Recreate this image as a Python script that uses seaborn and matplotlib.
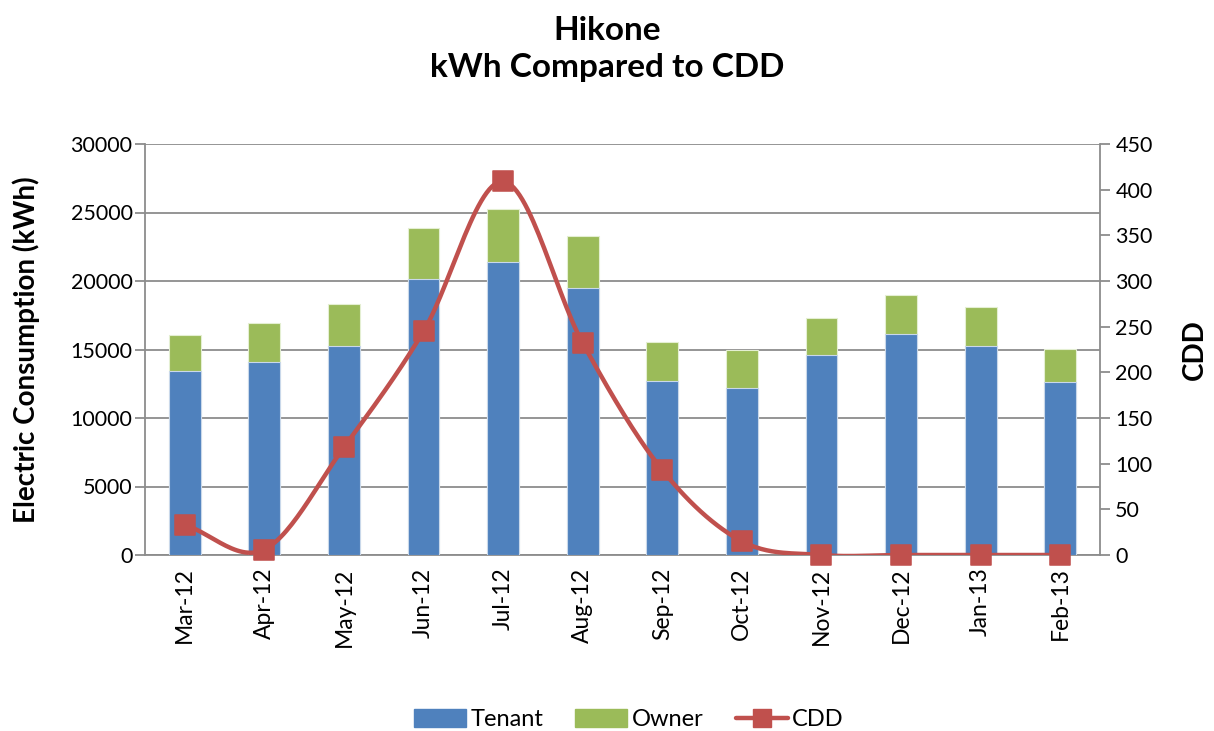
import numpy as np
import pandas as pd
import matplotlib
matplotlib.use("Agg")
import matplotlib.pyplot as plt
import seaborn as sns
from matplotlib.patches import Patch
from matplotlib.lines import Line2D

months = ["Mar-12", "Apr-12", "May-12", "Jun-12", "Jul-12", "Aug-12",
          "Sep-12", "Oct-12", "Nov-12", "Dec-12", "Jan-13", "Feb-13"]
tenant = [13430, 14070, 15280, 20120, 21410, 19510,
          12700, 12190, 14600, 16150, 15280, 12630]
owner = [2620, 2840, 3060, 3770, 3850, 3780,
         2870, 2770, 2720, 2800, 2800, 2380]
cdd = [33, 6, 118, 245, 409, 232, 93, 15, 0, 0, 0, 0]

BLUE = "#4F81BD"
GREEN = "#9BBB59"
RED = "#C0504D"
GRID = "#8c8c8c"


def smooth_path(x, y, n=30):
    # catmull-rom curve through the points, like Excel's smoothed line
    x = np.asarray(x, float)
    y = np.asarray(y, float)
    px = np.concatenate([[2 * x[0] - x[1]], x, [2 * x[-1] - x[-2]]])
    py = np.concatenate([[2 * y[0] - y[1]], y, [2 * y[-1] - y[-2]]])
    xs, ys = [], []
    t = np.linspace(0, 1, n)
    for i in range(1, len(px) - 2):
        for p, out in ((px, xs), (py, ys)):
            p0, p1, p2, p3 = p[i - 1], p[i], p[i + 1], p[i + 2]
            out.append(0.5 * (2 * p1 + (-p0 + p2) * t
                              + (2 * p0 - 5 * p1 + 4 * p2 - p3) * t ** 2
                              + (-p0 + 3 * p1 - 3 * p2 + p3) * t ** 3))
    return np.concatenate(xs), np.concatenate(ys)


def main():
    df = pd.DataFrame({"month": months, "Tenant": tenant, "Owner": owner, "CDD": cdd})
    df["Total"] = df["Tenant"] + df["Owner"]

    sns.set_style("white")
    plt.rcParams["font.family"] = ["Lato", "DejaVu Sans"]
    plt.rcParams["text.color"] = "black"
    plt.rcParams["xtick.color"] = "black"
    plt.rcParams["ytick.color"] = "black"
    plt.rcParams["axes.labelcolor"] = "black"

    fig = plt.figure(figsize=(12.14, 7.31), dpi=100)
    ax = fig.add_axes([145 / 1214, 1 - 555 / 731, 955 / 1214, 411 / 731])

    sns.barplot(data=df, x="month", y="Total", color=GREEN, width=0.4,
                edgecolor="#e4efd2", linewidth=0.8, saturation=1, ax=ax, zorder=2)
    sns.barplot(data=df, x="month", y="Tenant", color=BLUE, width=0.4,
                edgecolor="#c9d8ea", linewidth=0.8, saturation=1, ax=ax, zorder=3)

    ax.set_xlim(-0.5, len(months) - 0.5)
    ax.set_ylim(0, 30000)
    ax.set_yticks(range(0, 30001, 5000))
    ax.yaxis.grid(True, color=GRID, linewidth=1.3)
    ax.set_axisbelow(True)
    for s in ["top", "right"]:
        ax.spines[s].set_visible(False)
    for s in ["left", "bottom"]:
        ax.spines[s].set_color(GRID)
        ax.spines[s].set_linewidth(1.3)

    ax.set_xticks(range(len(months)))
    ax.set_xticklabels(months, rotation=90, fontsize=16.5)
    ax.set_xticks(np.arange(-0.5, len(months), 1), minor=True)
    ax.tick_params(axis="x", which="major", length=0, pad=9)
    ax.tick_params(axis="x", which="minor", length=7, color=GRID, width=1.3)
    ax.tick_params(axis="y", length=7, color=GRID, width=1.3, labelsize=15.5,
                   left=True, pad=2)
    ax.set_xlabel("")
    ax.set_ylabel("Electric Consumption (kWh)", fontsize=20, fontweight="bold", labelpad=22)

    ax2 = ax.twinx()
    ax2.set_ylim(0, 450)
    ax2.set_yticks(range(0, 451, 50))
    sx, sy = smooth_path(range(len(cdd)), cdd)
    ax2.plot(sx, sy, color=RED, linewidth=3.2, zorder=4, solid_capstyle="round")
    sns.scatterplot(x=np.arange(len(cdd)), y=df["CDD"], marker="s", s=200,
                    color=RED, edgecolor=RED, ax=ax2, zorder=5, clip_on=False)
    for s in ["top", "left", "bottom"]:
        ax2.spines[s].set_visible(False)
    ax2.spines["right"].set_color(GRID)
    ax2.spines["right"].set_linewidth(1.3)
    ax2.tick_params(axis="y", length=7, color=GRID, width=1.3, labelsize=15.5,
                    right=True, pad=4)
    ax2.set_ylabel("CDD", fontsize=20, fontweight="bold", labelpad=21)

    fig.suptitle("Hikone\nkWh Compared to CDD", fontsize=24, fontweight="bold",
                 y=0.978, linespacing=1.35)

    handles = [Patch(color=BLUE, label="Tenant"),
               Patch(color=GREEN, label="Owner"),
               Line2D([0], [0], color=RED, linewidth=3.2, marker="s", markersize=13,
                      label="CDD")]
    fig.legend(handles=handles, loc="lower center", ncol=3, frameon=False,
               fontsize=17, bbox_to_anchor=(0.518, -0.028), handlelength=2.2,
               handleheight=0.75, columnspacing=1.35, handletextpad=0.2)

    fig.savefig("out.png", dpi=100)


if __name__ == "__main__":
    main()
